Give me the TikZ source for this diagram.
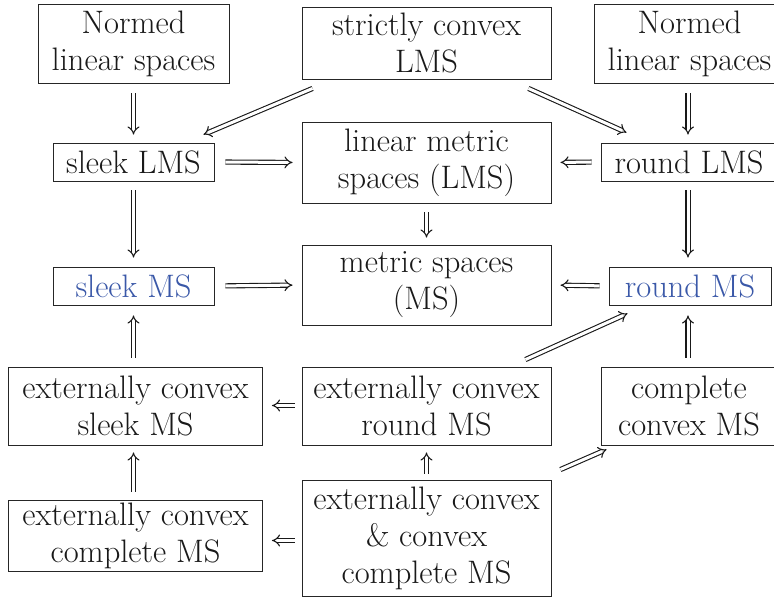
\documentclass[tikz,border=0pt]{standalone}
\usetikzlibrary{arrows.meta}
\definecolor{msblue}{RGB}{58,88,168}
\begin{document}
\begin{tikzpicture}[x=1pt,y=-1pt,
  box/.style={draw=black!85,line width=0.9pt,align=center,inner sep=0pt,
    font=\fontsize{32.5}{37}\selectfont,text=black!90},
  imp/.style={double=white,draw=black!90,line width=1.1pt,double distance=3pt,-{Implies[scale=1.6]}}]
\useasboundingbox (0,0) rectangle (774,599);
% row 1
\node[box,minimum width=191,minimum height=79] (nl1) at (133.5,43.5) {Normed\\linear spaces};
\node[box,minimum width=249,minimum height=72] (sc) at (426.5,43) {strictly convex\\LMS};
\node[box,minimum width=191,minimum height=79] (nl2) at (689.5,43.5) {Normed\\linear spaces};
% row 2
\node[box,minimum width=161,minimum height=38] (slms) at (133.5,162) {sleek LMS};
\node[box,minimum width=249,minimum height=81] (lms) at (426.5,162.5) {linear metric\\spaces (LMS)};
\node[box,minimum width=176,minimum height=38] (rlms) at (689,162) {round LMS};
% row 3
\node[box,minimum width=161,minimum height=38,text=msblue] (sms) at (133.5,286) {sleek MS};
\node[box,minimum width=249,minimum height=80] (ms) at (426.5,285) {metric spaces\\(MS)};
\node[box,minimum width=162,minimum height=38,text=msblue] (rms) at (690,286) {round MS};
% row 4
\node[box,minimum width=254,minimum height=78] (ecs) at (135.5,406) {externally convex\\sleek MS};
\node[box,minimum width=249,minimum height=78] (ecr) at (426.5,406) {externally convex\\round MS};
\node[box,minimum width=176,minimum height=78] (cc) at (689,406) {complete\\convex MS};
% row 5
\node[box,minimum width=254,minimum height=71] (ecc) at (135.5,535.5) {externally convex\\complete MS};
\node[box,minimum width=249,minimum height=116] (eccc) at (426.5,538) {externally convex\\\& convex\\complete MS};
% arrows
\draw[imp,shorten <=10pt,shorten >=8pt] (nl1.south) -- (slms.north);
\draw[imp] ([xshift=11pt,yshift=-9pt]sc.south west) -- ([xshift=-11pt,yshift=8pt]slms.north east);
\draw[imp] ([xshift=-23pt,yshift=-9pt]sc.south east) -- ([xshift=26pt,yshift=10pt]rlms.north west);
\draw[imp,shorten <=10pt,shorten >=8pt] ([xshift=-1.5pt]nl2.south) -- ([xshift=-1.5pt]nl2.south |- rlms.north);
\draw[imp,shorten <=11pt,shorten >=9pt] (slms.east) -- (lms.west);
\draw[imp,shorten <=9pt,shorten >=9pt] (rlms.west) -- (lms.east);
\draw[imp,shorten <=9pt,shorten >=7pt] (lms.south) -- (ms.north);
\draw[imp,shorten <=9pt,shorten >=9pt] (slms.south) -- (sms.north);
\draw[imp,shorten <=9pt,shorten >=9pt] ([xshift=-1.5pt]nl2.south |- rlms.south) -- ([xshift=-1.5pt]nl2.south |- rms.north);
\draw[imp,shorten <=11pt,shorten >=9pt] (sms.east) -- (ms.west);
\draw[imp,shorten <=9pt,shorten >=9pt] (rms.west) -- (ms.east);
\draw[imp,shorten <=9pt,shorten >=10pt] (sms.south |- ecs.north) -- (sms.south);
\draw[imp] ([xshift=-26pt,yshift=7pt]ecr.north east) -- ([xshift=19pt,yshift=-8pt]rms.south west);
\draw[imp,shorten <=9pt,shorten >=10pt] ([xshift=-1.5pt]nl2.south |- cc.north) -- ([xshift=-1.5pt]nl2.south |- rms.south);
\draw[imp,shorten <=7pt,shorten >=9pt] ([yshift=0.5pt]ecr.west) -- ([yshift=0.5pt]ecs.east);
\draw[imp,shorten <=6pt,shorten >=7pt] (eccc.north) -- (ecr.south);
\draw[imp] ([xshift=9pt,yshift=10pt]eccc.north east) -- ([xshift=6pt,yshift=-4pt]cc.south west);
\draw[imp,shorten <=7pt,shorten >=9pt] ([yshift=-2.5pt]eccc.west) -- ([yshift=-2.5pt]eccc.west -| ecc.east);
\draw[imp,shorten <=8pt,shorten >=7pt] (sms.south |- ecc.north) -- (sms.south |- ecs.south);
\end{tikzpicture}
\end{document}
